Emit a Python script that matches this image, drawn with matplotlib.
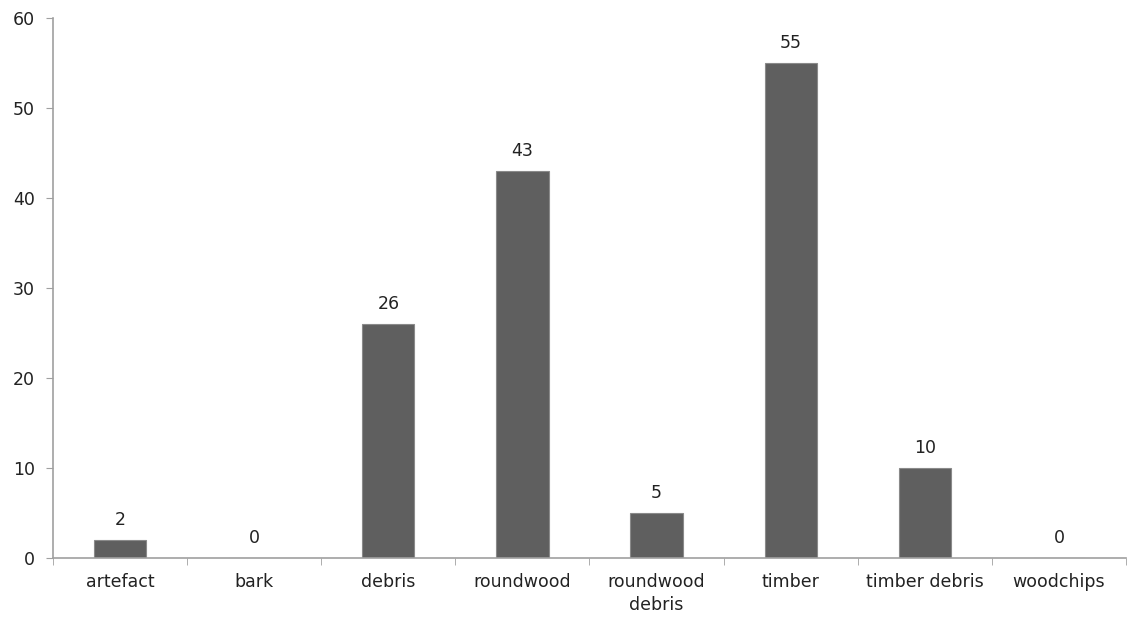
import numpy as np
import matplotlib.pyplot as plt

# wood categories and counts
categories = ["artefact", "bark", "debris", "roundwood", "roundwood\ndebris",
              "timber", "timber debris", "woodchips"]
counts = [2, 0, 26, 43, 5, 55, 10, 0]

plt.rcParams['font.family'] = ['DejaVu Sans']
fig = plt.figure(figsize=(11.33, 6.21), dpi=100)
ax = fig.add_axes([0.0468, 0.1014, 0.9470, 0.8696])

x = np.arange(len(categories))
bars = ax.bar(x, counts, width=0.39, color='#5f5f5f', edgecolor='#8a8a8a', linewidth=0.8)

# value labels above bars
for xi, v in zip(x, counts):
    ax.annotate(str(v), (xi, v), xytext=(0, 8), textcoords='offset points',
                ha='center', va='bottom', fontsize=12.5, color='#222222')

ax.set_xlim(-0.5, len(categories) - 0.5)
ax.set_ylim(0, 60)
ax.set_yticks(range(0, 61, 10))
ax.set_xticks(x)
ax.set_xticklabels(categories, fontsize=12.5, color='#222222', linespacing=1.35)
ax.set_xticks(np.arange(-0.5, len(categories)), minor=True)
ax.tick_params(axis='x', which='major', length=0, pad=11)
ax.tick_params(axis='x', which='minor', length=5, color='#a0a0a0', direction='out')
ax.tick_params(axis='y', length=5, color='#a0a0a0', labelsize=12.5, labelcolor='#222222', pad=8)

for side in ['top', 'right']:
    ax.spines[side].set_visible(False)
for side in ['left', 'bottom']:
    ax.spines[side].set_color('#a0a0a0')
    ax.spines[side].set_linewidth(1.2)

plt.savefig('out.png', dpi=100)
